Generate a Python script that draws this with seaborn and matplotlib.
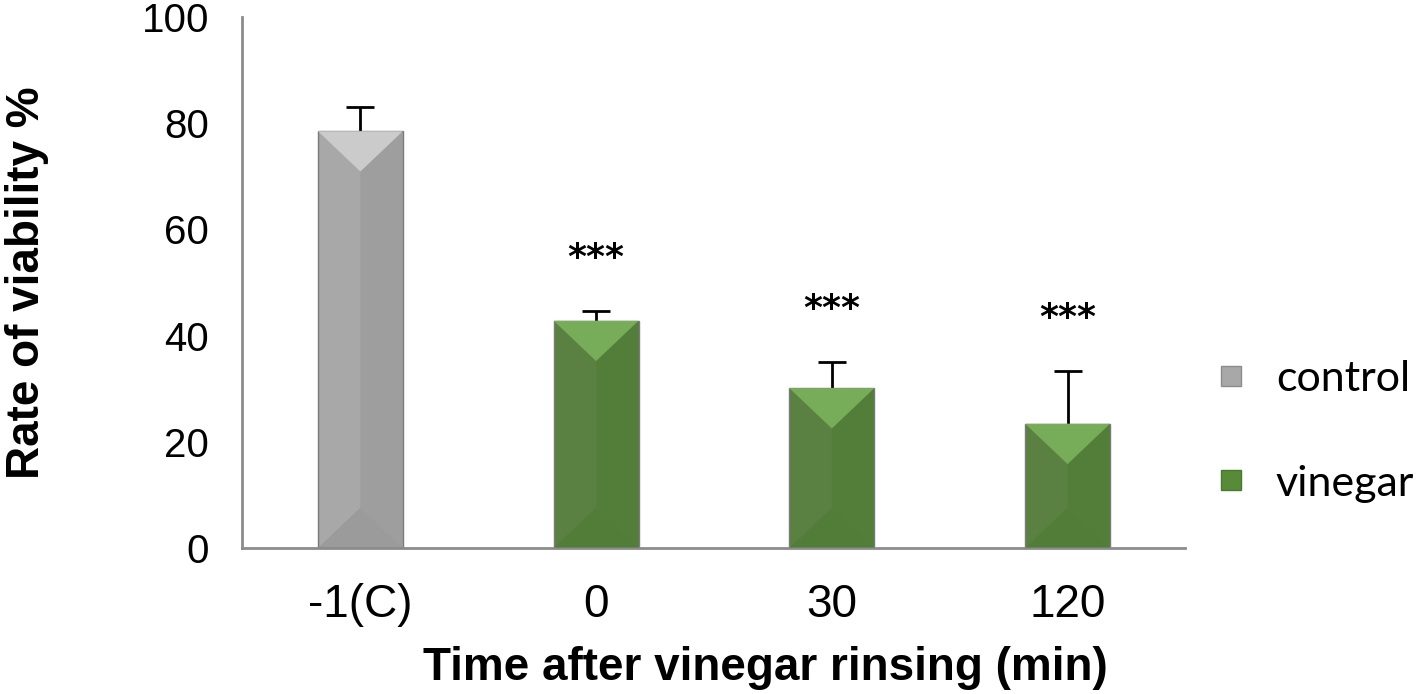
import numpy as np
import pandas as pd
import seaborn as sns
import matplotlib.pyplot as plt
from matplotlib.lines import Line2D

# values
times = ["-1(C)", "0", "30", "120"]
groups = ["control", "vinegar", "vinegar", "vinegar"]
viability = [78.5, 42.8, 30.1, 23.4]
sd = [4.5, 1.9, 5.0, 10.0]
stars = ["", "***", "***", "***"]

colors = {"control": "#a8a8a8", "vinegar": "#578b38"}
light = {"control": "#d2d2d2", "vinegar": "#7db55c"}
dark = {"control": "#8c8c8c", "vinegar": "#477a2c"}

df = pd.DataFrame({"time": times, "group": groups, "viability": viability, "sd": sd})

sns.set_style("white")
plt.rcParams["text.color"] = "black"
plt.rcParams["axes.labelcolor"] = "black"

fig = plt.figure(figsize=(14.18, 6.94), dpi=100)
ax = fig.add_axes([0.171, 0.2104, 0.665, 0.7651])

sns.barplot(data=df, x="time", y="viability", hue="group", palette=colors,
            dodge=False, width=0.36, errorbar=None, legend=False, ax=ax,
            edgecolor="#7a7a7a", linewidth=1, zorder=2)

ax.set_ylim(0, 100)
ax.set_xlim(-0.5, 3.5)

# error bars behind the bars, so only the upper half shows (Excel style)
xs = np.arange(len(times))
ax.errorbar(xs, viability, yerr=sd, fmt="none", ecolor="black",
            elinewidth=2, capsize=10, capthick=2, zorder=1)

# bevel look on each bar
p0 = ax.transData.transform((0, 0))
p1 = ax.transData.transform((1, 1))
ratio = (p1[0] - p0[0]) / (p1[1] - p0[1])
for p in ax.patches:
    h = p.get_height()
    if h <= 0:
        continue
    x0, y0, w = p.get_x(), p.get_y(), p.get_width()
    g = groups[int(round(x0 + w / 2))]
    b = w / 2
    hb = min(b * ratio * 0.95, h / 2)
    ax.fill([x0 + b, x0 + w, x0 + w, x0 + b], [y0 + hb, y0, y0 + h, y0 + h - hb],
            color=dark[g], alpha=0.35, lw=0, zorder=3)
    ax.fill([x0, x0 + w, x0 + b], [y0 + h, y0 + h, y0 + h - hb],
            color=light[g], alpha=0.85, lw=0, zorder=3)
    ax.fill([x0, x0 + w, x0 + b], [y0, y0, y0 + hb],
            color=dark[g], alpha=0.45, lw=0, zorder=3)

for i, s in enumerate(stars):
    if s:
        ax.text(xs[i], viability[i] + sd[i] + 10, s, ha="center", va="center",
                fontsize=26, fontweight="bold", family="DejaVu Sans")

ax.set_yticks([0, 20, 40, 60, 80, 100])
sns.despine(ax=ax)
for s in ["left", "bottom"]:
    ax.spines[s].set_color("#8c8c8c")
    ax.spines[s].set_linewidth(2)
ax.tick_params(axis="y", length=12, width=2, color="#8c8c8c", pad=12,
               labelsize=29, labelcolor="black")
ax.tick_params(axis="x", length=0, pad=25, labelsize=33, labelcolor="black")
for t in ax.get_yticklabels():
    t.set_family("Liberation Sans")
for t in ax.get_xticklabels():
    t.set_family("Liberation Sans")

ax.set_xlabel("Time after vinegar rinsing (min)", fontsize=33, fontweight="bold",
              family="Liberation Sans")
ax.xaxis.set_label_coords(0.555, -0.185)
ax.set_ylabel("Rate of viability %", fontsize=33, fontweight="bold",
              family="Liberation Sans")
ax.yaxis.set_label_coords(-0.205, 0.5)

handles = [Line2D([], [], marker="s", ls="none", markersize=15,
                  markerfacecolor=colors[k], markeredgecolor=dark[k]) for k in ["control", "vinegar"]]
ax.legend(handles, ["control", "vinegar"], loc="center left",
          bbox_to_anchor=(1.025, 0.22), frameon=False, labelspacing=1.55,
          handlelength=1.0, handletextpad=0.55, borderpad=0, borderaxespad=0,
          prop={"family": "Lato", "size": 31})

fig.savefig("out.png", dpi=100)
